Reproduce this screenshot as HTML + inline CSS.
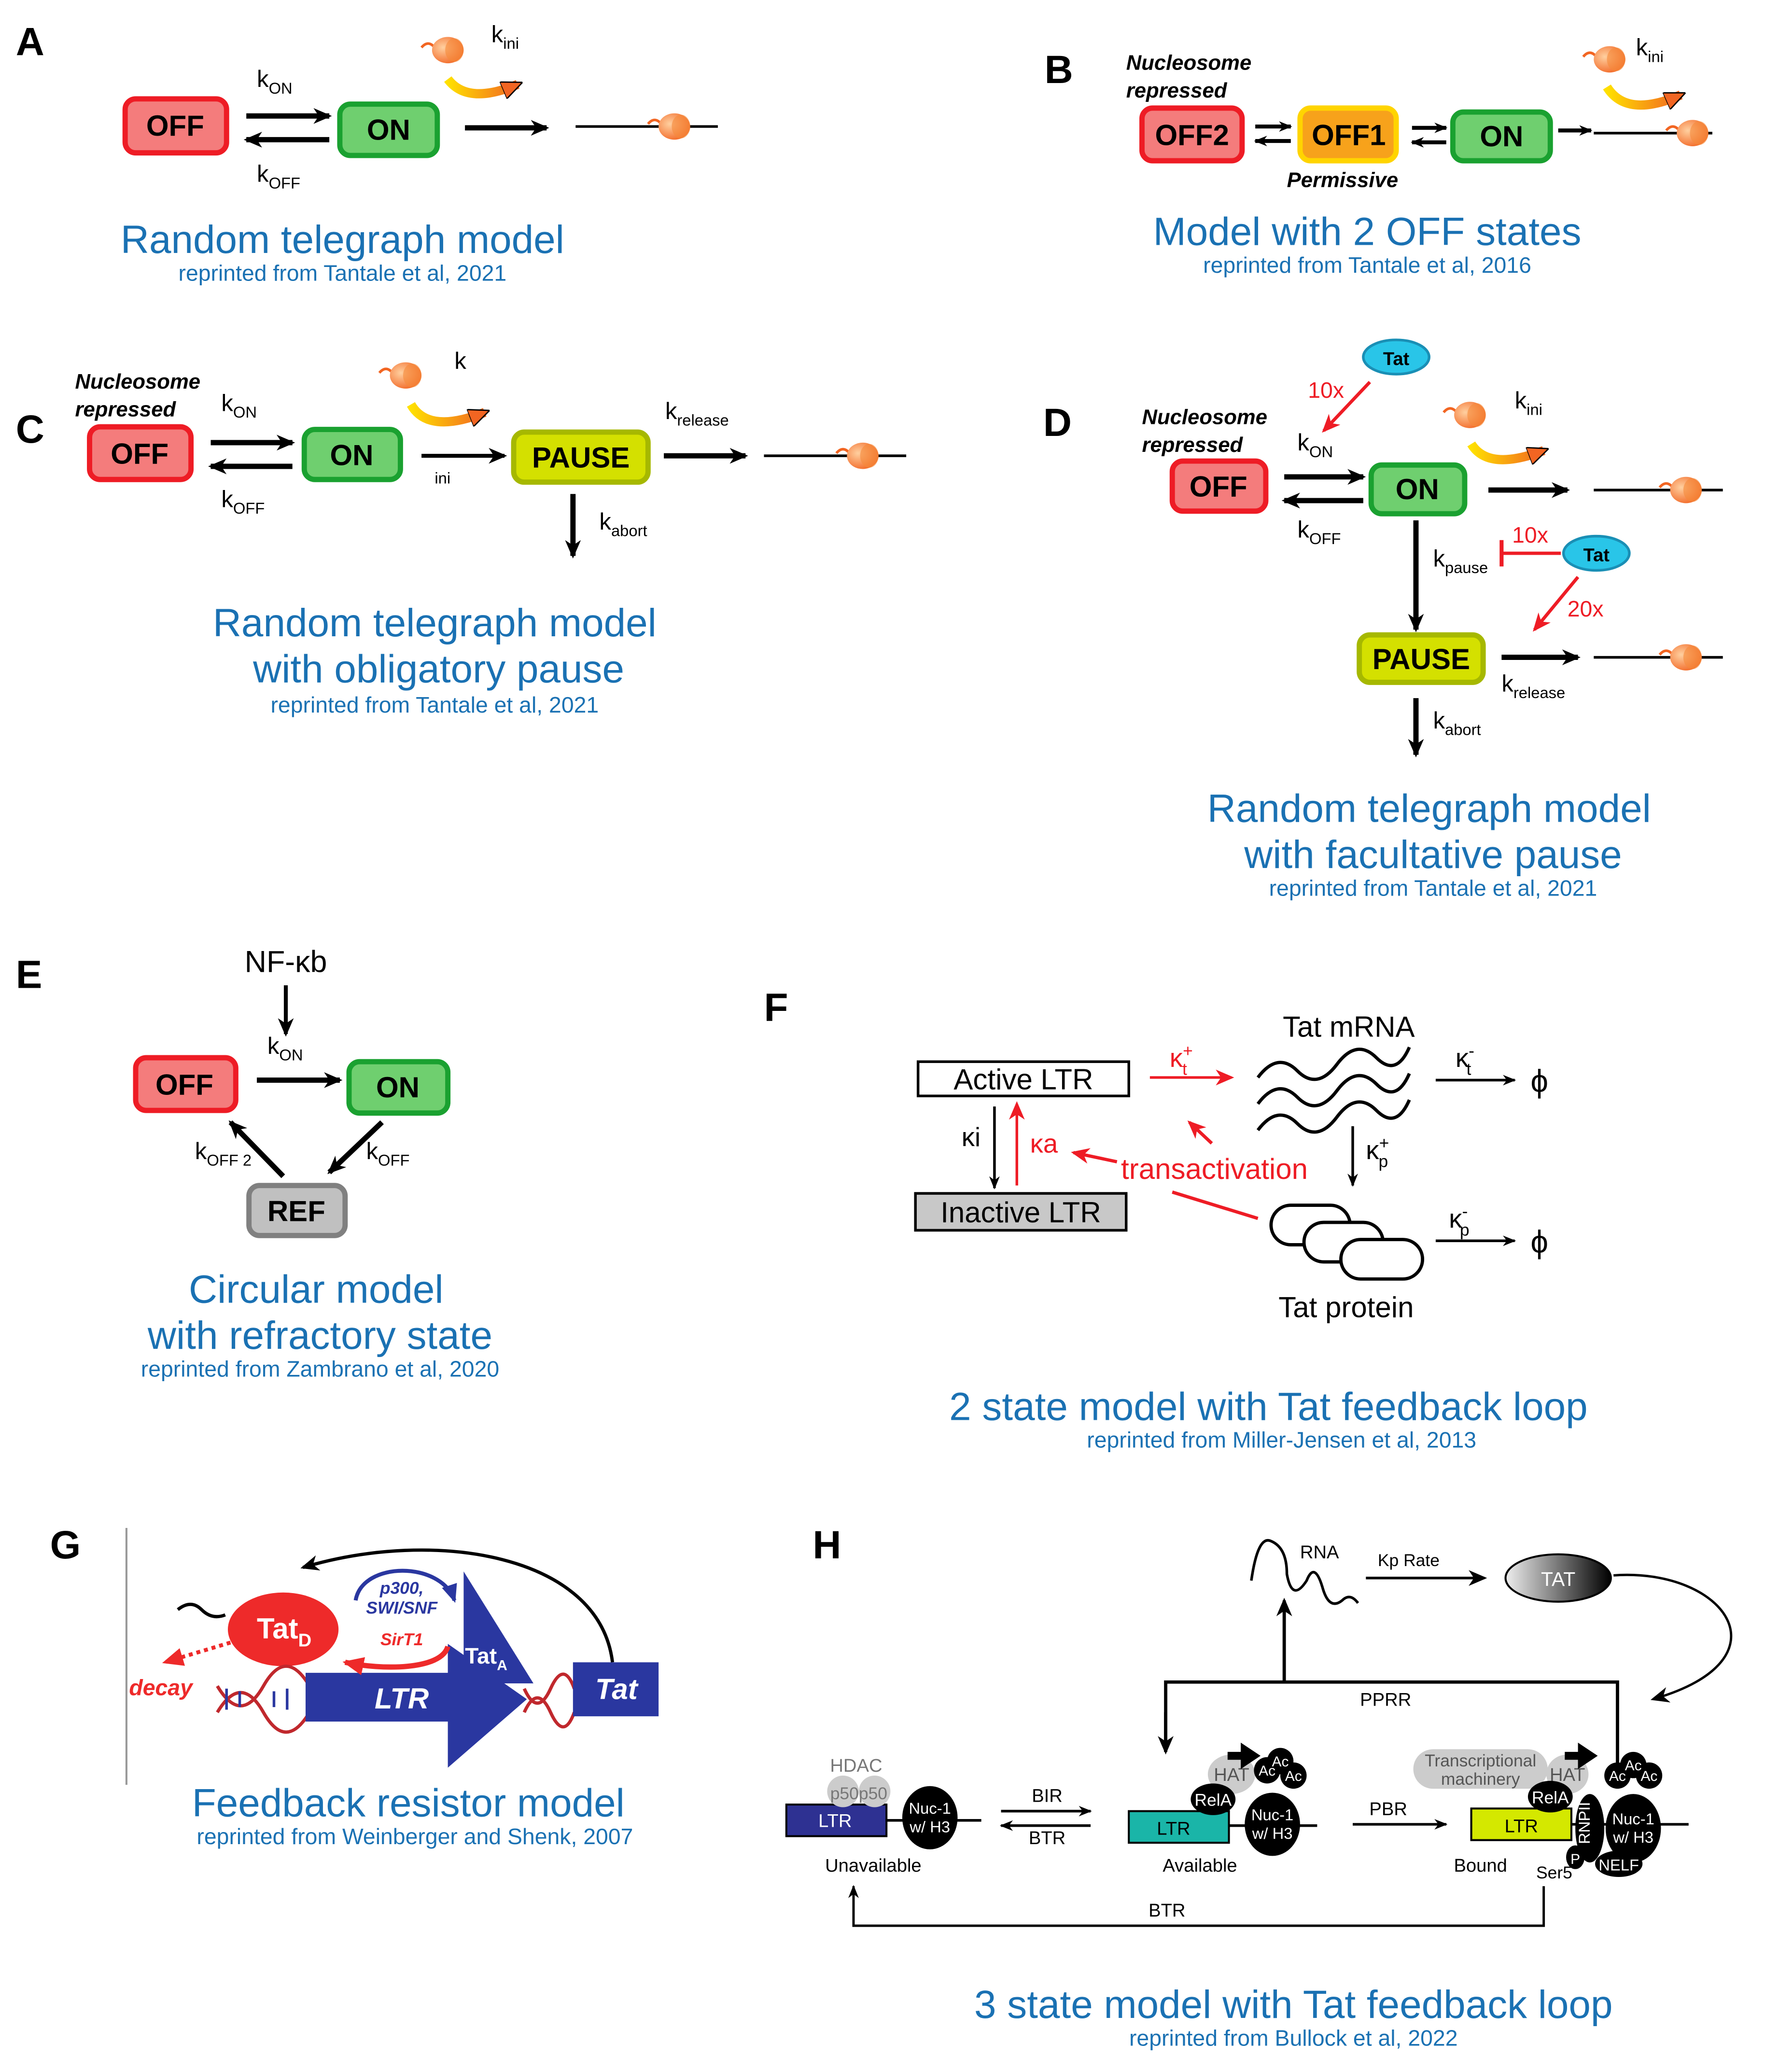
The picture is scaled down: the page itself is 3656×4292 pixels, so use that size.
<!DOCTYPE html>
<html><head><meta charset="utf-8"><style>
html,body{margin:0;padding:0;background:#fff;}
svg{display:block;}
text{font-family:"Liberation Sans",sans-serif;}
.t{fill:#1a71b3;font-size:30px;text-anchor:middle;}
.s{fill:#1a71b3;font-size:17px;text-anchor:middle;}
.L{font-size:30px;font-weight:bold;}
.bx{font-size:22px;font-weight:bold;text-anchor:middle;}
.k{font-size:18px;}
.sub{font-size:12px;}
.nr{font-size:16px;font-weight:bold;font-style:italic;}
.h{font-size:14px;}
</style></head><body>
<svg width="3656" height="4292" viewBox="0 0 1340 1573" xmlns="http://www.w3.org/2000/svg">
<defs>
<marker id="a" markerWidth="14" markerHeight="12" refX="12" refY="6" orient="auto" markerUnits="userSpaceOnUse"><path d="M0,0 L14,6 L0,12 L4,6z" fill="#000"/></marker>
<marker id="as" markerWidth="10" markerHeight="8" refX="9" refY="4" orient="auto" markerUnits="userSpaceOnUse"><path d="M0,0 L10,4 L0,8 L3,4z" fill="#000"/></marker>
<marker id="r" markerWidth="14" markerHeight="12" refX="12" refY="6" orient="auto" markerUnits="userSpaceOnUse"><path d="M0,0 L14,6 L0,12 L4,6z" fill="#ee1c25"/></marker>
<marker id="o" markerWidth="16" markerHeight="14" refX="12" refY="7" orient="auto" markerUnits="userSpaceOnUse"><path d="M0,0 L16,7 L0,14z" fill="#f26522" stroke="#000" stroke-width="1"/></marker>
<marker id="bl" markerWidth="14" markerHeight="12" refX="12" refY="6" orient="auto" markerUnits="userSpaceOnUse"><path d="M0,0 L14,6 L0,12z" fill="#2a37a0"/></marker>
<marker id="rd" markerWidth="16" markerHeight="14" refX="14" refY="7" orient="auto" markerUnits="userSpaceOnUse"><path d="M0,0 L16,7 L0,14z" fill="#ee2a2a"/></marker>
<radialGradient id="og" cx="0.35" cy="0.4" r="0.7"><stop offset="0" stop-color="#ffd0a0"/><stop offset="1" stop-color="#f26522"/></radialGradient>
<linearGradient id="tg" x1="0" x2="1"><stop offset="0" stop-color="#eee"/><stop offset="1" stop-color="#000"/></linearGradient>
<linearGradient id="cg" x1="0" x2="1"><stop offset="0" stop-color="#ffe000"/><stop offset="1" stop-color="#f26522"/></linearGradient>
<g id="blob"><path d="M-20,-2 q5,-6 10,0" stroke="#f26522" stroke-width="2" fill="none"/><ellipse cx="0" cy="0" rx="12" ry="10" fill="url(#og)"/><ellipse cx="5" cy="0" rx="7" ry="9" fill="#f58a3a" opacity="0.6"/></g>
</defs>

<!-- A -->
<text x="12" y="42" class="L">A</text>
<rect x="95" y="75" width="77" height="41" rx="8" fill="#f47c7c" stroke="#ee1c25" stroke-width="4"/>
<text x="133" y="103" class="bx">OFF</text>
<line x1="187" y1="88" x2="250" y2="88" stroke="#000" stroke-width="4" marker-end="url(#a)"/>
<line x1="250" y1="106" x2="187" y2="106" stroke="#000" stroke-width="4" marker-end="url(#a)"/>
<text x="195" y="66" class="k">k<tspan class="sub" dy="5">ON</tspan></text>
<text x="195" y="138" class="k">k<tspan class="sub" dy="5">OFF</tspan></text>
<rect x="258" y="79" width="74" height="39" rx="8" fill="#6fcf6f" stroke="#1aa130" stroke-width="4"/>
<text x="295" y="106" class="bx">ON</text>
<line x1="353" y1="97" x2="415" y2="97" stroke="#000" stroke-width="4" marker-end="url(#a)"/>
<line x1="437" y1="96" x2="545" y2="96" stroke="#000" stroke-width="2"/>
<use href="#blob" x="512" y="96"/>
<use href="#blob" x="340" y="38"/>
<text x="373" y="32" class="k">k<tspan class="sub" dy="5">ini</tspan></text>
<path d="M340,60 Q355,80 393,64" stroke="url(#cg)" stroke-width="7" fill="none" marker-end="url(#o)"/>
<text x="260" y="192" class="t">Random telegraph model</text>
<text x="260" y="213" class="s">reprinted from Tantale et al, 2021</text>

<!-- B -->
<text x="793" y="63" class="L">B</text>
<text x="855" y="53" class="nr">Nucleosome</text>
<text x="855" y="74" class="nr">repressed</text>
<rect x="867" y="82" width="76" height="40" rx="8" fill="#f47c7c" stroke="#ee1c25" stroke-width="4"/>
<text x="905" y="110" class="bx">OFF2</text>
<line x1="953" y1="96" x2="980" y2="96" stroke="#000" stroke-width="3" marker-end="url(#as)"/>
<line x1="980" y1="107" x2="953" y2="107" stroke="#000" stroke-width="3" marker-end="url(#as)"/>
<rect x="987" y="82" width="73" height="40" rx="8" fill="#f7a21b" stroke="#ffd400" stroke-width="4"/>
<text x="1024" y="110" class="bx">OFF1</text>
<line x1="1072" y1="97" x2="1098" y2="97" stroke="#000" stroke-width="3" marker-end="url(#as)"/>
<line x1="1098" y1="108" x2="1072" y2="108" stroke="#000" stroke-width="3" marker-end="url(#as)"/>
<rect x="1103" y="85" width="74" height="37" rx="8" fill="#6fcf6f" stroke="#1aa130" stroke-width="4"/>
<text x="1140" y="111" class="bx">ON</text>
<line x1="1183" y1="99" x2="1208" y2="99" stroke="#000" stroke-width="3" marker-end="url(#as)"/>
<line x1="1210" y1="101" x2="1300" y2="101" stroke="#000" stroke-width="2"/>
<use href="#blob" x="1285" y="101"/>
<use href="#blob" x="1222" y="45"/>
<text x="1242" y="42" class="k">k<tspan class="sub" dy="5">ini</tspan></text>
<path d="M1220,66 Q1235,90 1276,72" stroke="url(#cg)" stroke-width="7" fill="none" marker-end="url(#o)"/>
<text x="977" y="142" class="nr">Permissive</text>
<text x="1038" y="186" class="t">Model with 2 OFF states</text>
<text x="1038" y="207" class="s">reprinted from Tantale et al, 2016</text>

<!-- C -->
<text x="12" y="336" class="L">C</text>
<text x="57" y="295" class="nr">Nucleosome</text>
<text x="57" y="316" class="nr">repressed</text>
<rect x="68" y="324" width="77" height="40" rx="8" fill="#f47c7c" stroke="#ee1c25" stroke-width="4"/>
<text x="106" y="352" class="bx">OFF</text>
<line x1="160" y1="336" x2="222" y2="336" stroke="#000" stroke-width="4" marker-end="url(#a)"/>
<line x1="222" y1="354" x2="160" y2="354" stroke="#000" stroke-width="4" marker-end="url(#a)"/>
<text x="168" y="312" class="k">k<tspan class="sub" dy="5">ON</tspan></text>
<text x="168" y="385" class="k">k<tspan class="sub" dy="5">OFF</tspan></text>
<rect x="231" y="326" width="73" height="38" rx="8" fill="#6fcf6f" stroke="#1aa130" stroke-width="4"/>
<text x="267" y="353" class="bx">ON</text>
<line x1="320" y1="346" x2="383" y2="346" stroke="#000" stroke-width="3" marker-end="url(#a)"/>
<text x="330" y="367" class="sub">ini</text>
<text x="345" y="280" class="k">k</text>
<use href="#blob" x="308" y="285"/>
<path d="M312,307 Q325,330 368,313" stroke="url(#cg)" stroke-width="7" fill="none" marker-end="url(#o)"/>
<rect x="390" y="328" width="102" height="38" rx="8" fill="#d4e000" stroke="#a6b800" stroke-width="4"/>
<text x="441" y="355" class="bx">PAUSE</text>
<line x1="504" y1="346" x2="566" y2="346" stroke="#000" stroke-width="4" marker-end="url(#a)"/>
<text x="505" y="318" class="k">k<tspan class="sub" dy="5">release</tspan></text>
<line x1="580" y1="346" x2="688" y2="346" stroke="#000" stroke-width="2"/>
<use href="#blob" x="655" y="346"/>
<line x1="435" y1="375" x2="435" y2="422" stroke="#000" stroke-width="4" marker-end="url(#a)"/>
<text x="455" y="402" class="k">k<tspan class="sub" dy="5">abort</tspan></text>
<text x="330" y="483" class="t">Random telegraph model</text>
<text x="333" y="518" class="t">with obligatory pause</text>
<text x="330" y="541" class="s">reprinted from Tantale et al, 2021</text>

<!-- D -->
<text x="792" y="331" class="L">D</text>
<ellipse cx="1060" cy="271" rx="25" ry="13" fill="#29c5e8" stroke="#1a8fb5" stroke-width="2"/>
<text x="1060" y="277" font-size="14" font-weight="bold" text-anchor="middle">Tat</text>
<line x1="1040" y1="290" x2="1005" y2="327" stroke="#ee1c25" stroke-width="2.5" marker-end="url(#r)"/>
<text x="993" y="302" fill="#ee1c25" font-size="17">10x</text>
<text x="867" y="322" class="nr">Nucleosome</text>
<text x="867" y="343" class="nr">repressed</text>
<rect x="890" y="350" width="71" height="38" rx="8" fill="#f47c7c" stroke="#ee1c25" stroke-width="4"/>
<text x="925" y="377" class="bx">OFF</text>
<line x1="975" y1="362" x2="1035" y2="362" stroke="#000" stroke-width="4" marker-end="url(#a)"/>
<line x1="1035" y1="380" x2="975" y2="380" stroke="#000" stroke-width="4" marker-end="url(#a)"/>
<text x="985" y="342" class="k">k<tspan class="sub" dy="5">ON</tspan></text>
<text x="985" y="408" class="k">k<tspan class="sub" dy="5">OFF</tspan></text>
<rect x="1041" y="353" width="71" height="37" rx="8" fill="#6fcf6f" stroke="#1aa130" stroke-width="4"/>
<text x="1076" y="379" class="bx">ON</text>
<line x1="1130" y1="372" x2="1190" y2="372" stroke="#000" stroke-width="4" marker-end="url(#a)"/>
<line x1="1210" y1="372" x2="1308" y2="372" stroke="#000" stroke-width="2"/>
<use href="#blob" x="1280" y="372"/>
<use href="#blob" x="1116" y="315"/>
<text x="1150" y="310" class="k">k<tspan class="sub" dy="5">ini</tspan></text>
<path d="M1117,337 Q1130,358 1172,342" stroke="url(#cg)" stroke-width="7" fill="none" marker-end="url(#o)"/>
<line x1="1075" y1="395" x2="1075" y2="478" stroke="#000" stroke-width="4" marker-end="url(#a)"/>
<text x="1088" y="430" class="k">k<tspan class="sub" dy="5">pause</tspan></text>
<line x1="1185" y1="420" x2="1140" y2="420" stroke="#ee1c25" stroke-width="2.5"/>
<line x1="1140" y1="410" x2="1140" y2="430" stroke="#ee1c25" stroke-width="3"/>
<text x="1148" y="412" fill="#ee1c25" font-size="17">10x</text>
<ellipse cx="1212" cy="420" rx="25" ry="13" fill="#29c5e8" stroke="#1a8fb5" stroke-width="2"/>
<text x="1212" y="426" font-size="14" font-weight="bold" text-anchor="middle">Tat</text>
<line x1="1198" y1="438" x2="1165" y2="478" stroke="#ee1c25" stroke-width="2.5" marker-end="url(#r)"/>
<text x="1190" y="468" fill="#ee1c25" font-size="17">20x</text>
<rect x="1032" y="482" width="94" height="36" rx="8" fill="#d4e000" stroke="#a6b800" stroke-width="4"/>
<text x="1079" y="508" class="bx">PAUSE</text>
<line x1="1140" y1="499" x2="1198" y2="499" stroke="#000" stroke-width="4" marker-end="url(#a)"/>
<text x="1140" y="525" class="k">k<tspan class="sub" dy="5">release</tspan></text>
<line x1="1210" y1="499" x2="1308" y2="499" stroke="#000" stroke-width="2"/>
<use href="#blob" x="1280" y="499"/>
<line x1="1075" y1="530" x2="1075" y2="573" stroke="#000" stroke-width="4" marker-end="url(#a)"/>
<text x="1088" y="553" class="k">k<tspan class="sub" dy="5">abort</tspan></text>
<text x="1085" y="624" class="t">Random telegraph model</text>
<text x="1088" y="659" class="t">with facultative pause</text>
<text x="1088" y="680" class="s">reprinted from Tantale et al, 2021</text>

<!-- E -->
<text x="12" y="750" class="L">E</text>
<text x="217" y="738" font-size="23" text-anchor="middle">NF-κb</text>
<line x1="217" y1="748" x2="217" y2="785" stroke="#000" stroke-width="3" marker-end="url(#a)"/>
<text x="203" y="800" class="k">k<tspan class="sub" dy="5">ON</tspan></text>
<rect x="103" y="803" width="76" height="40" rx="8" fill="#f47c7c" stroke="#ee1c25" stroke-width="4"/>
<text x="140" y="831" class="bx">OFF</text>
<line x1="195" y1="820" x2="258" y2="820" stroke="#000" stroke-width="4" marker-end="url(#a)"/>
<rect x="265" y="806" width="75" height="39" rx="8" fill="#6fcf6f" stroke="#1aa130" stroke-width="4"/>
<text x="302" y="833" class="bx">ON</text>
<rect x="189" y="900" width="73" height="38" rx="8" fill="#c0c0c0" stroke="#808080" stroke-width="4"/>
<text x="225" y="927" class="bx">REF</text>
<line x1="215" y1="893" x2="175" y2="852" stroke="#000" stroke-width="4" marker-end="url(#a)"/>
<text x="148" y="880" class="k">k<tspan class="sub" dy="5">OFF 2</tspan></text>
<line x1="290" y1="852" x2="250" y2="890" stroke="#000" stroke-width="4" marker-end="url(#a)"/>
<text x="278" y="880" class="k">k<tspan class="sub" dy="5">OFF</tspan></text>
<text x="240" y="989" class="t">Circular model</text>
<text x="243" y="1024" class="t">with refractory state</text>
<text x="243" y="1045" class="s">reprinted from Zambrano et al, 2020</text>

<!-- F -->
<text x="580" y="775" class="L">F</text>
<rect x="697" y="806" width="160" height="26" fill="#fff" stroke="#000" stroke-width="2"/>
<text x="777" y="827" font-size="22" text-anchor="middle">Active LTR</text>
<rect x="695" y="906" width="160" height="28" fill="#c8c8c8" stroke="#000" stroke-width="2"/>
<text x="775" y="928" font-size="22" text-anchor="middle">Inactive LTR</text>
<line x1="755" y1="840" x2="755" y2="902" stroke="#000" stroke-width="2" marker-end="url(#as)"/>
<text x="730" y="870" font-size="20">κi</text>
<line x1="772" y1="900" x2="772" y2="838" stroke="#ee1c25" stroke-width="2" marker-end="url(#r)"/>
<text x="782" y="875" fill="#ee1c25" font-size="20">κa</text>
<line x1="873" y1="818" x2="935" y2="818" stroke="#ee1c25" stroke-width="2" marker-end="url(#r)"/>
<text x="888" y="810" fill="#ee1c25" font-size="20">κ<tspan font-size="13" dy="-8">+</tspan><tspan font-size="13" dx="-8" dy="14">t</tspan></text>
<text x="1024" y="787" font-size="22" text-anchor="middle">Tat mRNA</text>
<path d="M955,818 q15,-20 30,-5 t30,-5 t30,-5 t25,-8 M955,838 q15,-20 30,-5 t30,-5 t30,-5 t25,-8 M955,858 q15,-20 30,-5 t30,-5 t30,-5 t25,-8" stroke="#000" stroke-width="2.5" fill="none"/>
<line x1="1090" y1="820" x2="1150" y2="820" stroke="#000" stroke-width="2" marker-end="url(#as)"/>
<text x="1105" y="810" font-size="20">κ<tspan font-size="13" dy="-8">-</tspan><tspan font-size="13" dx="-6" dy="14">t</tspan></text>
<text x="1162" y="829" font-size="24">ϕ</text>
<line x1="1027" y1="855" x2="1027" y2="900" stroke="#000" stroke-width="2" marker-end="url(#as)"/>
<text x="1037" y="880" font-size="20">κ<tspan font-size="13" dy="-8">+</tspan><tspan font-size="13" dx="-8" dy="14">p</tspan></text>
<text x="922" y="895" fill="#ee1c25" font-size="22" text-anchor="middle">transactivation</text>
<line x1="848" y1="882" x2="815" y2="875" stroke="#ee1c25" stroke-width="2.5" marker-end="url(#r)"/>
<line x1="920" y1="868" x2="903" y2="852" stroke="#ee1c25" stroke-width="2.5" marker-end="url(#r)"/>
<line x1="890" y1="905" x2="955" y2="925" stroke="#ee1c25" stroke-width="2.5"/>
<rect x="965" y="915" width="60" height="30" rx="15" fill="#fff" stroke="#000" stroke-width="2.5"/>
<rect x="990" y="928" width="60" height="30" rx="15" fill="#fff" stroke="#000" stroke-width="2.5"/>
<rect x="1018" y="941" width="62" height="30" rx="15" fill="#fff" stroke="#000" stroke-width="2.5"/>
<line x1="1090" y1="942" x2="1150" y2="942" stroke="#000" stroke-width="2" marker-end="url(#as)"/>
<text x="1100" y="932" font-size="20">κ<tspan font-size="13" dy="-8">-</tspan><tspan font-size="13" dx="-6" dy="14">p</tspan></text>
<text x="1162" y="951" font-size="24">ϕ</text>
<text x="1022" y="1000" font-size="22" text-anchor="middle">Tat protein</text>
<text x="963" y="1078" class="t">2 state model with Tat feedback loop</text>
<text x="973" y="1099" class="s">reprinted from Miller-Jensen et al, 2013</text>

<!-- G -->
<text x="38" y="1183" class="L">G</text>
<line x1="96" y1="1160" x2="96" y2="1355" stroke="#999" stroke-width="1.5"/>
<path d="M465,1262 C455,1180 330,1160 230,1190" stroke="#000" stroke-width="2.5" fill="none" marker-end="url(#a)"/>
<path d="M135,1222 q10,-8 18,0 t18,4" stroke="#000" stroke-width="2.5" fill="none"/>
<ellipse cx="215" cy="1237" rx="42" ry="28" fill="#ee2a2a"/>
<text x="195" y="1244" fill="#fff" font-size="22" font-weight="bold">Tat<tspan font-size="14" dy="6">D</tspan></text>
<line x1="175" y1="1247" x2="125" y2="1262" stroke="#ee2a2a" stroke-width="3" stroke-dasharray="3,3" marker-end="url(#rd)"/>
<text x="98" y="1287" fill="#ee2a2a" font-size="17" font-weight="bold" font-style="italic">decay</text>
<path d="M165,1280 q18,30 35,0 t35,0 M165,1300 q18,-30 35,0 t35,0" stroke="#c0282d" stroke-width="2.5" fill="none"/>
<path d="M172,1282 l0,16 M182,1284 l0,12 M208,1284 l0,12 M218,1282 l0,16" stroke="#2a37a0" stroke-width="2"/>
<path d="M232,1270 L340,1270 L340,1248 L400,1290 L340,1342 L340,1307 L232,1307z" fill="#2a37a0"/>
<text x="305" y="1297" fill="#fff" font-size="22" font-weight="bold" font-style="italic" text-anchor="middle">LTR</text>
<path d="M352,1193 L405,1278 L352,1278z" fill="#2a37a0"/>
<text x="353" y="1263" fill="#fff" font-size="17" font-weight="bold">Tat<tspan font-size="11" dy="5">A</tspan></text>
<text x="305" y="1210" fill="#2a37a0" font-size="13" font-weight="bold" font-style="italic" text-anchor="middle">p300,</text>
<text x="305" y="1225" fill="#2a37a0" font-size="13" font-weight="bold" font-style="italic" text-anchor="middle">SWI/SNF</text>
<path d="M270,1215 C275,1185 335,1185 345,1215" stroke="#2a37a0" stroke-width="3" fill="none" marker-end="url(#bl)"/>
<text x="305" y="1249" fill="#ee2a2a" font-size="13" font-weight="bold" font-style="italic" text-anchor="middle">SirT1</text>
<path d="M340,1250 C335,1268 290,1268 262,1262" stroke="#ee2a2a" stroke-width="4" fill="none" marker-end="url(#rd)"/>
<path d="M398,1282 q10,22 20,0 t18,0 M398,1300 q10,-22 20,0 t18,0" stroke="#c0282d" stroke-width="2.5" fill="none"/>
<rect x="435" y="1262" width="65" height="41" fill="#2a37a0"/>
<text x="468" y="1290" fill="#fff" font-size="22" font-weight="bold" font-style="italic" text-anchor="middle">Tat</text>
<text x="310" y="1379" class="t">Feedback resistor model</text>
<text x="315" y="1400" class="s">reprinted from Weinberger and Shenk, 2007</text>

<!-- H -->
<text x="617" y="1183" class="L">H</text>
<path d="M950,1200 q5,-35 15,-30 q12,5 12,25 q4,22 15,5 q6,-15 12,5 q5,18 15,10 q6,-6 12,2" stroke="#000" stroke-width="2" fill="none"/>
<text x="987" y="1183" class="h">RNA</text>
<line x1="1037" y1="1198" x2="1127" y2="1198" stroke="#000" stroke-width="2" marker-end="url(#a)"/>
<text x="1046" y="1189" font-size="13">Kp Rate</text>
<ellipse cx="1183" cy="1198" rx="40" ry="18" fill="url(#tg)" stroke="#000" stroke-width="1.5"/>
<text x="1183" y="1204" fill="#fff" font-size="15" text-anchor="middle">TAT</text>
<path d="M1225,1196 C1310,1190 1360,1260 1255,1290" stroke="#000" stroke-width="1.8" fill="none" marker-end="url(#a)"/>
<path d="M885,1330 L885,1277 L1228,1277 L1228,1350" stroke="#000" stroke-width="2.5" fill="none"/>
<line x1="885" y1="1300" x2="885" y2="1330" stroke="#000" stroke-width="2.5" marker-end="url(#a)"/>
<line x1="975" y1="1277" x2="975" y2="1215" stroke="#000" stroke-width="2.5" marker-end="url(#a)"/>
<text x="1052" y="1295" class="h" text-anchor="middle">PPRR</text>
<line x1="597" y1="1382" x2="745" y2="1382" stroke="#000" stroke-width="2"/>
<rect x="597" y="1370" width="76" height="24" fill="#2e3192" stroke="#000" stroke-width="1.5"/>
<text x="634" y="1387" fill="#fff" class="h" text-anchor="middle">LTR</text>
<circle cx="640" cy="1360" r="12" fill="#ccc"/><circle cx="664" cy="1360" r="12" fill="#ccc"/>
<text x="652" y="1366" fill="#777" font-size="13" text-anchor="middle">p50p50</text>
<text x="650" y="1345" fill="#777" class="h" text-anchor="middle">HDAC</text>
<ellipse cx="706" cy="1380" rx="21" ry="24" fill="#000"/>
<text x="706" y="1377" fill="#fff" font-size="12" text-anchor="middle">Nuc-1</text>
<text x="706" y="1391" fill="#fff" font-size="12" text-anchor="middle">w/ H3</text>
<line x1="760" y1="1375" x2="828" y2="1375" stroke="#000" stroke-width="2" marker-end="url(#as)"/>
<line x1="828" y1="1386" x2="760" y2="1386" stroke="#000" stroke-width="2" marker-end="url(#as)"/>
<text x="795" y="1368" class="h" text-anchor="middle">BIR</text>
<text x="795" y="1400" class="h" text-anchor="middle">BTR</text>
<text x="663" y="1421" class="h" text-anchor="middle">Unavailable</text>
<line x1="933" y1="1386" x2="1000" y2="1386" stroke="#000" stroke-width="2"/>
<rect x="857" y="1375" width="76" height="24" fill="#1ab5a8" stroke="#000" stroke-width="1.5"/>
<text x="891" y="1393" class="h" text-anchor="middle">LTR</text>
<ellipse cx="935" cy="1347" rx="18" ry="15" fill="#ccc"/>
<text x="935" y="1352" fill="#555" class="h" text-anchor="middle">HAT</text>
<ellipse cx="921" cy="1366" rx="17" ry="12" fill="#000"/>
<text x="921" y="1371" fill="#fff" font-size="13" text-anchor="middle">RelA</text>
<path d="M932,1330 l10,0 l0,-7 l15,10 l-15,10 l0,-7 l-10,0z" fill="#000"/>
<circle cx="962" cy="1344" r="10" fill="#000"/><circle cx="972" cy="1337" r="10" fill="#000"/><circle cx="982" cy="1348" r="10" fill="#000"/>
<text x="962" y="1348" fill="#fff" font-size="11" text-anchor="middle">Ac</text>
<text x="972" y="1341" fill="#fff" font-size="11" text-anchor="middle">Ac</text>
<text x="982" y="1352" fill="#fff" font-size="11" text-anchor="middle">Ac</text>
<ellipse cx="966" cy="1385" rx="21" ry="24" fill="#000"/>
<text x="966" y="1382" fill="#fff" font-size="12" text-anchor="middle">Nuc-1</text>
<text x="966" y="1396" fill="#fff" font-size="12" text-anchor="middle">w/ H3</text>
<line x1="1027" y1="1385" x2="1098" y2="1385" stroke="#000" stroke-width="2" marker-end="url(#as)"/>
<text x="1054" y="1378" class="h" text-anchor="middle">PBR</text>
<text x="911" y="1421" class="h" text-anchor="middle">Available</text>
<line x1="1193" y1="1385" x2="1282" y2="1385" stroke="#000" stroke-width="2"/>
<rect x="1073" y="1328" width="102" height="30" rx="15" fill="#ccc"/>
<text x="1124" y="1341" fill="#555" font-size="13" text-anchor="middle">Transcriptional</text>
<text x="1124" y="1355" fill="#555" font-size="13" text-anchor="middle">machinery</text>
<rect x="1117" y="1373" width="76" height="24" fill="#d4e800" stroke="#000" stroke-width="1.5"/>
<text x="1155" y="1391" class="h" text-anchor="middle">LTR</text>
<ellipse cx="1190" cy="1347" rx="16" ry="15" fill="#ccc"/>
<text x="1190" y="1352" fill="#555" class="h" text-anchor="middle">HAT</text>
<ellipse cx="1177" cy="1364" rx="17" ry="12" fill="#000"/>
<text x="1177" y="1369" fill="#fff" font-size="13" text-anchor="middle">RelA</text>
<path d="M1188,1330 l10,0 l0,-7 l15,10 l-15,10 l0,-7 l-10,0z" fill="#000"/>
<circle cx="1228" cy="1348" r="10" fill="#000"/><circle cx="1240" cy="1340" r="10" fill="#000"/><circle cx="1252" cy="1348" r="10" fill="#000"/>
<text x="1228" y="1352" fill="#fff" font-size="11" text-anchor="middle">Ac</text>
<text x="1240" y="1344" fill="#fff" font-size="11" text-anchor="middle">Ac</text>
<text x="1252" y="1352" fill="#fff" font-size="11" text-anchor="middle">Ac</text>
<ellipse cx="1207" cy="1388" rx="11" ry="26" fill="#000"/>
<text x="1211" y="1388" fill="#fff" font-size="12" text-anchor="middle" transform="rotate(-90 1207 1388)">RNPII</text>
<ellipse cx="1240" cy="1388" rx="21" ry="26" fill="#000"/>
<text x="1240" y="1385" fill="#fff" font-size="12" text-anchor="middle">Nuc-1</text>
<text x="1240" y="1399" fill="#fff" font-size="12" text-anchor="middle">w/ H3</text>
<ellipse cx="1196" cy="1410" rx="7" ry="9" fill="#000"/>
<text x="1196" y="1415" fill="#fff" font-size="11" text-anchor="middle">P</text>
<ellipse cx="1229" cy="1415" rx="18" ry="10" fill="#000"/>
<text x="1229" y="1420" fill="#fff" font-size="12" text-anchor="middle">NELF</text>
<text x="1180" y="1426" font-size="13" text-anchor="middle">Ser5</text>
<text x="1124" y="1421" class="h" text-anchor="middle">Bound</text>
<path d="M1172,1432 L1172,1462 L648,1462 L648,1432" stroke="#000" stroke-width="1.8" fill="none" marker-end="url(#as)"/>
<text x="886" y="1455" class="h" text-anchor="middle">BTR</text>
<text x="982" y="1532" class="t">3 state model with Tat feedback loop</text>
<text x="982" y="1553" class="s">reprinted from Bullock et al, 2022</text>
</svg>
</body></html>
